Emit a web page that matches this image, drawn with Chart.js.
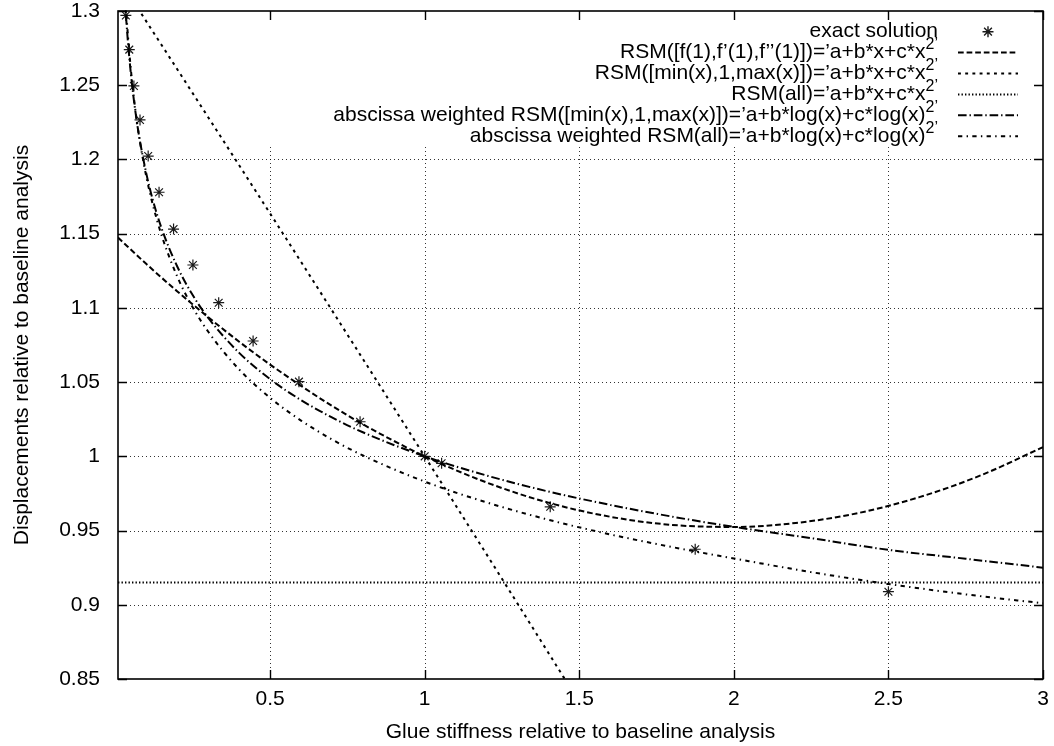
<!DOCTYPE html>
<html>
<head>
<meta charset="utf-8">
<title>Displacements vs glue stiffness</title>
<script src="https://cdn.jsdelivr.net/npm/chart.js@4.4.1/dist/chart.umd.min.js"></script>
<style>
  html, body { margin: 0; padding: 0; background: #fff; }
  #wrap { width: 1054px; height: 746px; }
</style>
</head>
<body>
<div id="wrap"><canvas id="chart" width="1054" height="746"></canvas></div>
<script>
// ---- axis ticks ----
const xTicks = [0.5, 1, 1.5, 2, 2.5, 3];
const yTicks = [0.85, 0.9, 0.95, 1, 1.05, 1.1, 1.15, 1.2, 1.25, 1.3];

// ---- exact solution samples ----
const exactX = [0.0334, 0.0445, 0.0594, 0.0792, 0.1056, 0.1408, 0.1877, 0.2503, 0.3337,
                0.445, 0.5933, 0.791, 1.0, 1.0547, 1.406, 1.875, 2.5];
const exactY = [1.297, 1.274, 1.2495, 1.2266, 1.2023, 1.1779, 1.1531, 1.1289, 1.1035,
                1.0777, 1.0503, 1.0233, 1.0, 0.9953, 0.966, 0.9374, 0.9088];

// ---- RSM([f(1),f'(1),f''(1)]) quadratic in x ----
const taylorX = [0.008, 0.1, 0.2, 0.3, 0.4, 0.5, 0.6, 0.7, 0.8, 0.9, 1.0,
                 1.2, 1.4, 1.6, 1.8, 2.0, 2.2, 2.4, 2.6, 2.8, 3.0];
const taylorY = [1.1474, 1.1295, 1.1111, 1.0937, 1.0772, 1.0618, 1.0475, 1.0340, 1.0216, 1.0104, 1.0,
                 0.9824, 0.9688, 0.9593, 0.9538, 0.9524, 0.9551, 0.9617, 0.9725, 0.9873, 1.0062];

// ---- RSM([min(x),1,max(x)]) quadratic in x ----
const threePtX = [0.008, 0.25, 0.5, 0.75, 1.0, 1.25, 1.5];
const threePtY = [1.3225, 1.2445, 1.1636, 1.082, 1.0, 0.9175, 0.8344];

// ---- RSM(all) quadratic in x ----
const allX = [0.008, 3.0];
const allY = [0.915, 0.915];

// ---- abscissa weighted RSM([min(x),1,max(x)]) in log(x) ----
const logThreePtX = [0.025, 0.03, 0.035, 0.04, 0.05, 0.06, 0.07, 0.08, 0.1, 0.12, 0.15, 0.2, 0.25, 0.3,
                     0.4, 0.5, 0.6, 0.7, 0.8, 1.0, 1.2, 1.4, 1.6, 1.8, 2.0, 2.25, 2.5, 2.75, 3.0];
const logThreePtY = [1.3285, 1.3092, 1.2932, 1.2795, 1.2570, 1.2390, 1.2239, 1.2112, 1.1901, 1.1732, 1.1530, 1.1277, 1.1085, 1.0932,
                     1.0697, 1.0520, 1.0379, 1.0262, 1.0162, 1.0, 0.9871, 0.9763, 0.9673, 0.9594, 0.9525, 0.9449, 0.937, 0.931, 0.925];

// ---- abscissa weighted RSM(all) in log(x) ----
const logAllX = [0.025, 0.03, 0.035, 0.04, 0.05, 0.06, 0.07, 0.08, 0.1, 0.12, 0.15, 0.2, 0.25, 0.3,
                 0.4, 0.5, 0.6, 0.7, 0.8, 1.0, 1.2, 1.4, 1.6, 1.8, 2.0, 2.25, 2.5, 2.75, 3.0];
const logAllY = [1.3360, 1.3155, 1.2985, 1.2838, 1.2598, 1.2404, 1.2243, 1.2106, 1.1880, 1.1700, 1.1483, 1.1209, 1.1003, 1.0839,
                 1.0585, 1.0394, 1.0241, 1.0114, 1.0006, 0.983, 0.9690, 0.9573, 0.9474, 0.9389, 0.9312, 0.922, 0.914, 0.907, 0.901];

// key texts: main part and the raised exponent part
const keyTexts = [
  ['exact solution', ''],
  ['RSM([f(1),f\u2019(1),f\u2019\u2019(1)])=\u2019a+b*x+c*x', '2\u2019'],
  ['RSM([min(x),1,max(x)])=\u2019a+b*x+c*x', '2\u2019'],
  ['RSM(all)=\u2019a+b*x+c*x', '2\u2019'],
  ['abscissa weighted RSM([min(x),1,max(x)])=\u2019a+b*log(x)+c*log(x)', '2\u2019'],
  ['abscissa weighted RSM(all)=\u2019a+b*log(x)+c*log(x)', '2\u2019']
];

const FONT = "'Liberation Sans', Arial, Helvetica, sans-serif";
const FONT_SIZE = 21;
Chart.defaults.font.family = FONT;
Chart.defaults.font.size = FONT_SIZE;
Chart.defaults.color = '#000';

const zip = (xs, ys) => xs.map((x, i) => ({x, y: ys[i]}));

function curve(idx, xs, ys, dash) {
  return {
    label: keyTexts[idx][0],
    sup: keyTexts[idx][1],
    data: zip(xs, ys),
    showLine: true,
    borderColor: '#000',
    borderWidth: 2,
    borderDash: dash,
    pointRadius: 0,
    pointHoverRadius: 0,
    cubicInterpolationMode: 'monotone',
    clip: 0,
    order: 0
  };
}

const KEY_BOTTOM_OFFSET = 136; // grid is left out above this, under the key

// dotted grid, drawn below the curves
const gridPlugin = {
  id: 'dottedGrid',
  beforeDatasetsDraw(chart) {
    const {ctx, chartArea: {left, right, top, bottom}, scales: {x, y}} = chart;
    const gridTop = top + KEY_BOTTOM_OFFSET;
    ctx.save();
    ctx.strokeStyle = 'rgba(0,0,0,0.8)';
    ctx.lineWidth = 1;
    ctx.setLineDash([1, 3]);
    xTicks.forEach(v => {
      const px = Math.round(x.getPixelForValue(v)) + 0.5;
      if (px >= right - 1) return;
      ctx.beginPath(); ctx.moveTo(px, gridTop); ctx.lineTo(px, bottom); ctx.stroke();
    });
    yTicks.forEach(v => {
      const py = Math.round(y.getPixelForValue(v)) + 0.5;
      if (py <= gridTop || py >= bottom - 1) return;
      ctx.beginPath(); ctx.moveTo(left, py); ctx.lineTo(right, py); ctx.stroke();
    });
    ctx.restore();
  }
};

// frame with inward tick marks on all four sides, plus the key
const framePlugin = {
  id: 'frameAndKey',
  afterDatasetsDraw(chart) {
    const {ctx, chartArea: {left, right, top, bottom}, scales: {x, y}} = chart;
    ctx.save();
    ctx.strokeStyle = '#000';
    ctx.lineWidth = 1.6;
    ctx.setLineDash([]);
    ctx.strokeRect(left, top, right - left, bottom - top);
    const tl = 9;
    ctx.lineWidth = 1.4;
    xTicks.forEach(v => {
      const px = Math.round(x.getPixelForValue(v)) + 0.5;
      ctx.beginPath();
      ctx.moveTo(px, bottom); ctx.lineTo(px, bottom - tl);
      ctx.moveTo(px, top); ctx.lineTo(px, top + tl);
      ctx.stroke();
    });
    yTicks.forEach(v => {
      const py = Math.round(y.getPixelForValue(v)) + 0.5;
      ctx.beginPath();
      ctx.moveTo(left, py); ctx.lineTo(left + tl, py);
      ctx.moveTo(right, py); ctx.lineTo(right - tl, py);
      ctx.stroke();
    });

    // key
    const textRight = right - 105;
    const sampleL = right - 85, sampleR = right - 25;
    const rowTop = top + 20.7, rowStep = 20.9;
    chart.data.datasets.forEach((ds, i) => {
      const cy = rowTop + i * rowStep;
      ctx.fillStyle = '#000';
      ctx.textBaseline = 'middle';
      ctx.textAlign = 'right';
      let endX = textRight;
      if (ds.sup) {
        ctx.font = '16px ' + FONT;
        ctx.fillText(ds.sup, endX, cy - 8);
        endX -= ctx.measureText(ds.sup).width;
      }
      ctx.font = FONT_SIZE + 'px ' + FONT;
      ctx.fillText(ds.label, endX, cy);

      ctx.strokeStyle = '#000';
      if (ds.showLine) {
        ctx.lineWidth = ds.borderWidth;
        ctx.setLineDash(ds.borderDash || []);
        ctx.beginPath(); ctx.moveTo(sampleL, cy); ctx.lineTo(sampleR, cy); ctx.stroke();
        ctx.setLineDash([]);
      } else {
        ctx.strokeStyle = ds.borderColor;
        Chart.helpers.drawPoint(ctx, {pointStyle: ds.pointStyle, radius: ds.pointRadius,
          borderWidth: ds.borderWidth, rotation: 0}, (sampleL + sampleR) / 2, cy);
      }
    });
    ctx.restore();
  }
};

const fmt = v => String(Number(v.toFixed(2)));

new Chart(document.getElementById('chart'), {
  type: 'scatter',
  data: {
    datasets: [
      {
        label: keyTexts[0][0],
        sup: keyTexts[0][1],
        data: zip(exactX, exactY),
        showLine: false,
        pointStyle: 'star',
        pointRadius: 5.5,
        pointHoverRadius: 5.5,
        borderColor: '#1a1a1a',
        backgroundColor: '#1a1a1a',
        borderWidth: 1.2,
        clip: 6,
        order: 1
      },
      curve(1, taylorX, taylorY, [5.7, 2.9]),
      curve(2, threePtX, threePtY, [2.9, 4.3]),
      curve(3, allX, allY, [1.4, 2.1]),
      curve(4, logThreePtX, logThreePtY, [8.6, 2.9, 1.4, 2.9]),
      curve(5, logAllX, logAllY, [4.3, 4.3, 1.4, 4.3])
    ]
  },
  options: {
    responsive: false,
    animation: false,
    devicePixelRatio: 1,
    layout: { padding: { top: 11, right: 11, left: 0, bottom: 0 } },
    plugins: { legend: { display: false }, tooltip: { enabled: false } },
    events: [],
    scales: {
      x: {
        type: 'linear',
        min: 0.008,
        max: 3,
        grid: { display: false, drawTicks: false },
        border: { display: false },
        afterBuildTicks: s => { s.ticks = xTicks.map(v => ({value: v})); },
        afterFit: s => { s.height = 67; s.paddingLeft = 0; s.paddingRight = 0; },
        ticks: { padding: 8, callback: v => fmt(v), maxRotation: 0, autoSkip: false, color: '#000' },
        title: { display: true, text: 'Glue stiffness relative to baseline analysis',
                 padding: { top: 0, bottom: 1.5 }, color: '#000' }
      },
      y: {
        type: 'linear',
        min: 0.85,
        max: 1.3,
        grid: { display: false, drawTicks: false },
        border: { display: false },
        afterBuildTicks: s => { s.ticks = yTicks.map(v => ({value: v})); },
        afterFit: s => { s.width = 118; s.paddingTop = 0; s.paddingBottom = 0; },
        ticks: { padding: 18, callback: v => fmt(v), autoSkip: false, color: '#000' },
        title: { display: true, text: 'Displacements relative to baseline analysis',
                 padding: { top: 10, bottom: 0 }, color: '#000' }
      }
    }
  },
  plugins: [gridPlugin, framePlugin]
});
</script>
</body>
</html>
